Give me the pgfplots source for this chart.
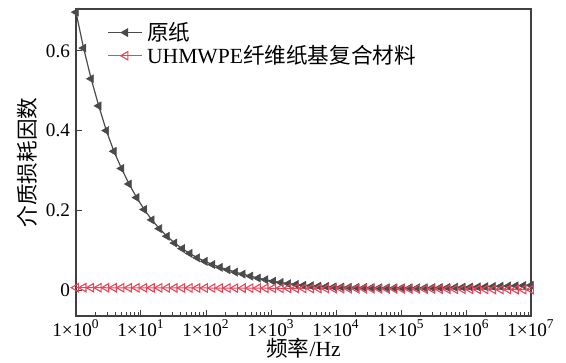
\documentclass[border=0pt]{standalone}
\usepackage{fontspec}
\setmainfont{Liberation Serif}
\newfontfamily\cjk{Noto Sans CJK SC}
\usepackage{pgfplots}
\usepackage{pgfplotstable}
\pgfplotsset{compat=1.18}

\definecolor{paperGray}{HTML}{4A4A4A}
\definecolor{compRed}{HTML}{E5465A}

% frequency (Hz), loss factor of plain paper, loss factor of the composite
\pgfplotstableread{
f        paper   comp
1        0.697   0.0060
1.3077   0.607   0.0060
1.7100   0.530   0.0059
2.2387   0.462   0.0059
2.9286   0.400   0.0058
3.8312   0.348   0.0058
5.0119   0.305   0.0057
6.5555   0.266   0.0057
8.5770   0.232   0.0056
11.220   0.202   0.0056
14.678   0.176   0.0055
19.201   0.154   0.0055
25.119   0.135   0.0054
32.858   0.118   0.0054
42.987   0.104   0.0053
56.234   0.092   0.0053
73.564   0.081   0.0052
96.230   0.072   0.0052
125.89   0.064   0.0051
164.70   0.057   0.0050
215.44   0.051   0.0050
281.84   0.045   0.0049
368.70   0.040   0.0048
482.30   0.035   0.0048
630.96   0.030   0.0047
825.40   0.026   0.0046
1079.8   0.022   0.0045
1412.5   0.019   0.0044
1847.8   0.016   0.0043
2417.3   0.014   0.0042
3162.3   0.012   0.0041
4135.3   0.011   0.0040
5407.6   0.010   0.0039
7079.5   0.009   0.0038
9261     0.0080  0.0037
12115    0.0075  0.0036
15849    0.0070  0.0035
20730    0.0066  0.0034
27123    0.0063  0.0033
35481    0.0060  0.0032
46416    0.0058  0.0031
60723    0.0057  0.0030
79433    0.0056  0.0029
103910   0.0056  0.0028
135936   0.0056  0.0027
177828   0.0057  0.0026
232631   0.0058  0.0025
304330   0.0060  0.0024
398107   0.0062  0.0023
520815   0.0065  0.0022
681292   0.0068  0.0021
891251   0.0072  0.0020
1165914  0.0076  0.0019
1525340  0.0080  0.0018
1995262  0.0085  0.0017
2610157  0.0090  0.0016
3414549  0.0096  0.0015
4466836  0.0102  0.0014
5843414  0.0108  0.0013
7644213  0.0114  0.0012
10000000 0.0120  0.0011
}\losstable

\begin{document}
\begin{tikzpicture}
\begin{axis}[
  scale only axis,
  width=227.5pt, height=153.5pt,
  xmode=log,
  xmin=1, xmax=1e7,
  ymin=-0.065, ymax=0.705,
  xtick={1,10,100,1000,10000,100000,1000000,10000000},
  xticklabels={1×10\textsuperscript{0},1×10\textsuperscript{1},1×10\textsuperscript{2},1×10\textsuperscript{3},1×10\textsuperscript{4},1×10\textsuperscript{5},1×10\textsuperscript{6},1×10\textsuperscript{7}},
  ytick={0,0.2,0.4,0.6},
  yticklabels={0,0.2,0.4,0.6},
  tick pos=left,
  tick align=inside,
  major tick length=3pt,
  minor tick length=1.8pt,
  axis line style={line width=0.6pt, black!75},
  every tick/.style={black!75, line width=0.5pt},
  tick label style={font=\fontsize{9.6}{11}\selectfont},
  xticklabel style={yshift=1.5pt},
  yticklabel style={xshift=0.5pt},
  xlabel={{\cjk 频率}/Hz},
  ylabel={\cjk 介质损耗因数},
  label style={font=\fontsize{10.8}{12}\selectfont},
  xlabel style={at={(axis description cs:0.5,-0.104)}, anchor=center},
  ylabel style={at={(axis description cs:-0.1077,0.5)}, anchor=center},
  clip=true,
  legend style={draw=none, fill=none, at={(0.056,0.985)}, anchor=north west,
    font=\fontsize{10.8}{12}\selectfont, row sep=-3pt,
    /tikz/every even column/.append style={column sep=2pt}},
  legend cell align=left,
  legend image code/.code={
    \draw[#1] (0pt,0pt) -- (17pt,0pt);
    \draw[#1, only marks] plot coordinates {(8.5pt,0pt)};
  },
]
\addplot[paperGray, line width=0.6pt, mark=triangle*,
  mark size=2.3pt, mark options={rotate=90, fill=paperGray, line width=0.3pt}]
  table[x=f, y=paper] {\losstable};
\addlegendentry{\cjk 原纸}
\addplot[compRed, line width=0.5pt, mark=triangle,
  mark size=2.4pt, mark options={rotate=90, line width=0.55pt}]
  table[x=f, y=comp] {\losstable};
\addlegendentry{UHMWPE{\cjk 纤维纸基复合材料}}
\end{axis}
% page margins around the plot area
\pgfresetboundingbox
\path ([shift={(-38pt,-23.5pt)}]current axis.south west)
  rectangle ([shift={(17.5pt,4.5pt)}]current axis.north east);
\end{tikzpicture}
\end{document}
